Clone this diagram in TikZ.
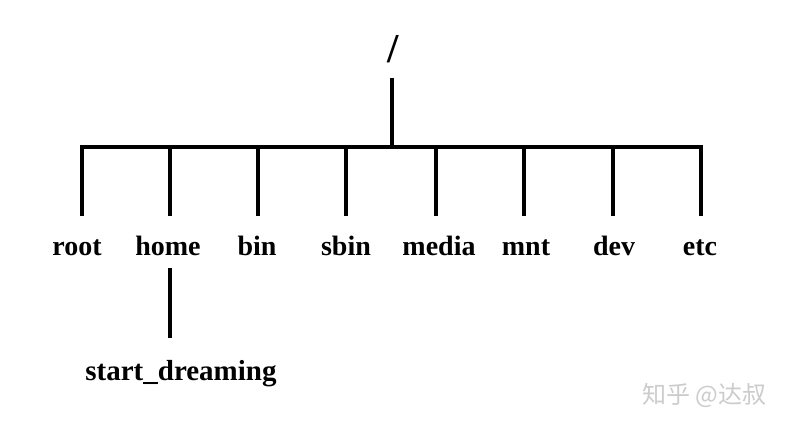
\documentclass[tikz,border=0pt]{standalone}
\usepackage{fontspec}
\setmainfont{Liberation Serif}
\newfontfamily\cjk{Noto Sans CJK SC}
\begin{document}
\begin{tikzpicture}[x=1pt,y=-1pt,
  link/.style={line width=4pt},
  lbl/.style={font=\bfseries\fontsize{28}{30}\selectfont, anchor=base, inner sep=0pt, text height=19pt, text depth=6pt}]
\fill[white] (0,0) rectangle (786,426);
\useasboundingbox (0,0) rectangle (786,426);
% root slash
\node[font=\bfseries\fontsize{41}{44}\selectfont, anchor=base, inner sep=0pt] (slash) at (393,62) {/};
% junctions on the bar
\coordinate (hub) at (392,147);
\coordinate (j-root) at (82,147);
\coordinate (j-home) at (170,147);
\coordinate (j-bin) at (258,147);
\coordinate (j-sbin) at (346,147);
\coordinate (j-media) at (436,147);
\coordinate (j-mnt) at (524,147);
\coordinate (j-dev) at (613,147);
\coordinate (j-etc) at (701,147);
% labels
\node[lbl] (root) at (77,255) {root};
\node[lbl] (home) at (168,255) {home};
\node[lbl] (bin) at (257,255) {bin};
\node[lbl] (sbin) at (346,255) {sbin};
\node[lbl] (media) at (439,255) {media};
\node[lbl] (mnt) at (526,255) {mnt};
\node[lbl] (dev) at (614,255) {dev};
\node[lbl] (etc) at (700,255) {etc};
\node[lbl, font=\bfseries\fontsize{29}{31}\selectfont] (sd) at (181,380) {start\_dreaming};
% connectors
\draw[link, shorten <=15pt] (slash.south -| hub) -- (hub);
\draw[link, line cap=rect] (j-root) -- (j-etc);
\foreach \n in {root,home,bin,sbin,media,mnt,dev,etc}
  \draw[link, shorten >=20pt] (j-\n) -- (j-\n |- \n.north);
\draw[link, shorten <=7pt, shorten >=23pt] (j-home |- home.south) -- (j-home |- sd.north);
% watermark
\node[font=\cjk\fontsize{24}{26}\selectfont, text=gray!40, anchor=west, inner sep=0pt] (wm) at (642,395) {知乎 @达叔};
\end{tikzpicture}
\end{document}
